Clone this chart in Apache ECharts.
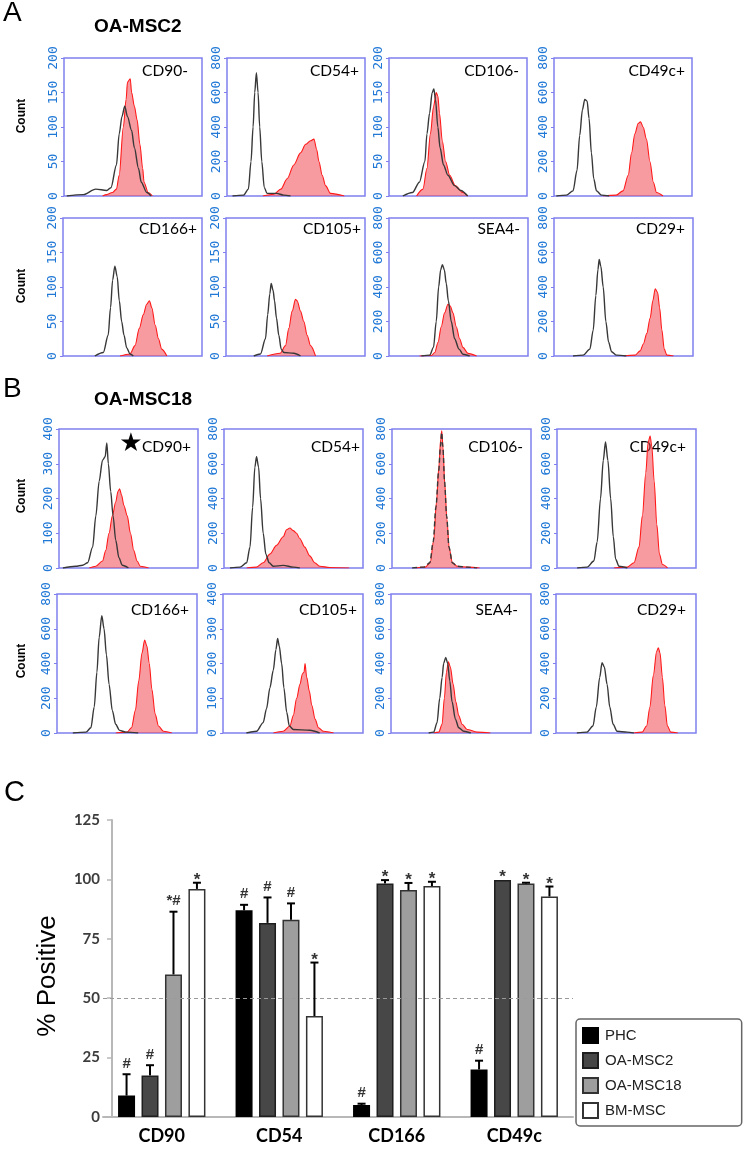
<!DOCTYPE html>
<html><head><meta charset="utf-8">
<script src="https://cdn.jsdelivr.net/npm/echarts/dist/echarts.min.js"></script>
<style>html,body{margin:0;padding:0;background:#fff}#c{width:747px;height:1150px}</style>
</head><body><div id="c"></div>
<script>
// ---------- Histogram data: [x (% of channel range), count] ----------
// Panel A: OA-MSC2 (ctrl = isotype, black; pos = stained, red)
const A_CD90_ctrl = [[2,0],[14,2],[23,10],[31,8],[34,12],[38,45],[40,90],[42,115],[44,130],[46,115],[49,95],[51,70],[54,40],[56,20],[60,5],[63,0]];
const A_CD90_pos = [[28,0],[31,2],[35,5],[38,10],[40,30],[43,100],[45,140],[46,165],[48,170],[49,150],[51,130],[53,110],[55,75],[57,40],[58,20],[61,5],[64,0]];
const A_CD54_ctrl = [[4,0],[12,5],[15.5,40],[17.4,200],[18.9,400],[20.1,600],[21.3,715],[22.5,600],[23.7,400],[25.2,200],[27,50],[29,15],[36,15],[41,5],[46,0]];
const A_CD54_pos = [[26,0],[34,10],[39,40],[43.6,100],[48.4,180],[53.3,250],[57,300],[60.5,320],[63,330],[65,270],[66.6,200],[69,120],[71.4,60],[75,15],[85,0]];
const A_CD106_ctrl = [[10,0],[17,5],[22,20],[26,50],[27.5,90],[29.4,120],[31.3,150],[32.5,155],[33.7,140],[35.4,100],[37,70],[39.5,45],[42.7,30],[47.5,15],[52,8],[57,0]];
const A_CD106_pos = [[20,0],[24.6,10],[27.5,40],[30,90],[32.3,130],[34.2,150],[35.4,145],[36.6,120],[38.6,80],[41,50],[44,30],[48,15],[53.5,5],[57,0]];
const A_CD49c_ctrl = [[1.7,0],[9,5],[13.8,30],[16.7,150],[18.6,350],[20.6,500],[22.3,560],[24,550],[25.4,450],[27.1,250],[28.8,100],[30.8,30],[34.4,5],[40,0]];
const A_CD49c_pos = [[35.6,0],[45,5],[50,30],[53.8,120],[56.2,250],[58.6,360],[61,420],[62.7,430],[64.6,400],[67,330],[69.5,200],[72,80],[74.3,20],[79,0]];
const A_CD166_ctrl = [[22.9,0],[29,5],[32.5,30],[34.2,70],[35.7,110],[37.3,130],[39,115],[40.5,80],[42.2,50],[43.9,30],[45.8,12],[48.2,3],[50.6,0]];
const A_CD166_pos = [[41,0],[48.2,3],[51.8,15],[54.9,40],[57.8,60],[60.2,75],[62.2,80],[63.9,70],[66.3,45],[68.7,25],[71,10],[74.7,0]];
const A_CD105_ctrl = [[20,0],[24.8,3],[28.4,25],[30,60],[31.5,90],[32.5,105],[33.9,95],[34.9,80],[36.3,55],[38,30],[39.7,10],[41.6,5],[48.8,4],[53.6,0]];
const A_CD105_pos = [[29.6,0],[39,4],[42.8,15],[45.2,40],[47.6,65],[50,82],[51.2,80],[53.6,65],[56,50],[58.4,30],[60.8,15],[64.4,0]];
const A_SEA4_ctrl = [[23.3,0],[29.3,5],[32,50],[34,200],[35.7,400],[37.2,500],[38.4,530],[39.8,500],[41.2,420],[42.7,320],[44.8,200],[47.2,100],[50.4,40],[53.2,10],[58,0]];
const A_SEA4_pos = [[22,0],[30.5,3],[32.9,20],[35.3,80],[37.6,170],[40,250],[42.4,300],[44.1,290],[46,250],[48.4,170],[50.8,100],[53.2,50],[56.8,15],[63,0]];
const A_CD29_ctrl = [[13.7,0],[21,5],[25.8,40],[28.2,150],[30.1,350],[31.6,500],[32.5,560],[33.7,520],[35.4,400],[37.3,200],[39.3,80],[41.4,25],[45,5],[52,0]];
const A_CD29_pos = [[50,0],[58.3,5],[62,30],[64.3,70],[66.7,130],[69.2,220],[71.1,320],[72.8,390],[74.5,370],[76,280],[77.6,150],[79.3,40],[81.2,5],[86,0]];
// Panel B: OA-MSC18
const B_CD90_ctrl = [[2.8,0],[12,5],[17,8],[20.6,15],[24.2,60],[26.5,150],[28.9,250],[31.3,310],[33.2,320],[34.4,360],[35.5,300],[37.2,220],[38.9,150],[40.8,80],[43.1,30],[45.5,8],[50,0]];
const B_CD90_pos = [[21.8,0],[26.5,5],[31.3,20],[33.6,50],[36,100],[38.4,150],[40.8,190],[42.4,220],[43.6,228],[45,210],[46.7,180],[49.1,150],[51.4,100],[53.8,50],[56.2,20],[58.5,5],[64.5,0]];
const B_CD54_ctrl = [[4.3,0],[11.5,5],[16.3,30],[18.7,120],[20.6,350],[22.2,580],[23.4,640],[24.9,580],[26.3,400],[28.2,200],[30.1,80],[32.5,30],[35.4,10],[42.6,15],[50,5],[54.5,0]];
const B_CD54_pos = [[16.3,0],[23.4,5],[28.2,30],[33,80],[37.8,130],[42.6,180],[45,220],[47.4,230],[49.8,215],[52.2,200],[54.5,170],[58.1,120],[61.7,70],[65.3,30],[69,10],[76,3],[90,0]];
const B_CD106_ctrl = [[14.5,0],[22.9,5],[27.2,30],[29.6,150],[31.6,350],[33.5,550],[34.9,700],[35.7,780],[36.6,700],[37.8,500],[39.3,300],[41,120],[43.4,30],[47,10],[54,5],[61,0]];
const B_CD106_pos = [[17,0],[24,5],[27.5,30],[30,160],[32,380],[33.7,580],[35,740],[35.8,790],[36.7,690],[38,480],[39.5,280],[41.2,110],[43.5,30],[47,10],[55,5],[63,0]];
const B_CD49c_ctrl = [[14.5,0],[21.7,5],[26.5,40],[28.9,150],[31.3,400],[33.3,620],[34.9,725],[36.6,620],[38.6,400],[40.5,180],[42.2,50],[44.6,10],[50.6,0]];
const B_CD49c_pos = [[41,0],[50.6,5],[55.4,30],[59,120],[61.4,300],[63.9,550],[65.5,720],[67,760],[68.2,700],[69.9,500],[71.8,250],[73.7,80],[75.9,20],[79.5,0]];
const B_CD166_ctrl = [[11.3,0],[20.7,5],[24.2,30],[26.6,150],[28.5,350],[30.1,550],[32,675],[33.6,600],[35.3,450],[37.2,280],[39.5,130],[41.9,50],[44.7,15],[49,5],[58,0]];
const B_CD166_pos = [[42,0],[50,5],[53.2,30],[56,130],[58.4,300],[60.7,460],[62.6,535],[64.2,500],[65.9,400],[67.8,250],[70.1,110],[72.5,40],[76,10],[82,0]];
const B_CD105_ctrl = [[16.7,0],[24,5],[28.7,30],[31.1,70],[33.5,130],[35.9,180],[37.8,240],[39,272],[40.2,250],[41.9,200],[43.5,130],[45.5,60],[47.4,20],[50.2,10],[62,8],[69,0]];
const B_CD105_pos = [[36,0],[43,5],[47.8,20],[50.2,50],[52.6,100],[55,140],[56.7,170],[57.9,175],[58.6,200],[59.8,160],[61.7,120],[63.4,80],[65.8,40],[68.2,15],[71.8,5],[79,0]];
const B_SEA4_ctrl = [[26.9,0],[30.5,5],[32.9,60],[34.8,200],[36.5,320],[37.6,400],[39.1,435],[40.5,400],[42,300],[43.6,180],[46,80],[48.4,30],[52,10],[57,0]];
const B_SEA4_pos = [[30.5,0],[34.1,5],[36.5,50],[38.1,200],[39.6,350],[41,410],[42.4,380],[44.4,280],[46.3,180],[48.4,100],[50.8,50],[54.4,20],[61.6,5],[71,0]];
const B_CD29_ctrl = [[14.9,0],[22,5],[26.4,40],[28.8,150],[31.2,320],[32.9,405],[34.5,380],[36.5,280],[38.4,150],[40.8,50],[43.6,10],[50.8,5],[55.6,0]];
const B_CD29_pos = [[55.6,0],[61.6,5],[64.7,40],[67.1,150],[69.5,330],[71.9,470],[73.1,490],[74.3,460],[76,320],[77.7,160],[79.6,40],[82,5],[87,0]];

// panel markers and y-axis maxima (tick labels: 0..max in quarters)
const histLabels = ['CD90-','CD54+','CD106-','CD49c+','CD166+','CD105+','SEA4-','CD29+',
                    'CD90+','CD54+','CD106-','CD49c+','CD166+','CD105+','SEA4-','CD29+'];
const histMax = [200,800,200,800, 200,200,800,800, 400,800,800,800, 800,400,800,800];
const histCtrl = [A_CD90_ctrl,A_CD54_ctrl,A_CD106_ctrl,A_CD49c_ctrl,A_CD166_ctrl,A_CD105_ctrl,A_SEA4_ctrl,A_CD29_ctrl,
                  B_CD90_ctrl,B_CD54_ctrl,B_CD106_ctrl,B_CD49c_ctrl,B_CD166_ctrl,B_CD105_ctrl,B_SEA4_ctrl,B_CD29_ctrl];
const histPos = [A_CD90_pos,A_CD54_pos,A_CD106_pos,A_CD49c_pos,A_CD166_pos,A_CD105_pos,A_SEA4_pos,A_CD29_pos,
                 B_CD90_pos,B_CD54_pos,B_CD106_pos,B_CD49c_pos,B_CD166_pos,B_CD105_pos,B_SEA4_pos,B_CD29_pos];

// ---------- Bar chart data (panel C) ----------
const categories = ['CD90','CD54','CD166','CD49c'];
const groupNames = ['PHC','OA-MSC2','OA-MSC18','BM-MSC'];
const PHC      = [9, 87, 5, 20];
const PHC_sd   = [9, 2.3, 0.6, 3.7];
const MSC2     = [17.5, 81.7, 98.3, 99.7];
const MSC2_sd  = [4.3, 10.7, 1.4, 0];
const MSC18    = [60, 83, 95.5, 98.3];
const MSC18_sd = [26.4, 6.9, 3, 0.3];
const BM       = [96, 42.5, 97.2, 92.8];
const BM_sd    = [2.6, 22.5, 1.8, 4.2];
const PHC_sig   = ['#','#','#','#'];
const MSC2_sig  = ['#','#','*','*'];
const MSC18_sig = ['*#','#','*','*'];
const BM_sig    = ['*','*','*','*'];
const yTicksC = [0, 25, 50, 75, 100, 125];

// ---------- layout / styling ----------
const BORDER = '#7f7ff0';
const rowsLayout = [
  {top:58,  h:138, lefts:[64,227,389,554], w:138, ty:13},
  {top:218, h:138, lefts:[63,226,389,554], w:139, ty:11},
  {top:429, h:139, lefts:[59,224,392,557], w:139, ty:18},
  {top:594, h:139, lefts:[57,223,391,556], w:140, ty:16}
];
const titleInset = [14,6,8,7, 5,4,8,8, 7,3,8,10, 8,6,13,10];

const grids=[], xAxes=[], yAxes=[], series=[], graphics=[];
function txt(x,y,text,font,opts){
  opts = opts||{};
  return {type:'text', x:x, y:y, rotation:opts.rotation||0, silent:true,
    style:{text:text, font:font, fill:opts.fill||'#000',
      align:opts.align||'left', verticalAlign:opts.va||'middle',
      textAlign:opts.align||'left', textVerticalAlign:opts.va||'middle'}};
}

for (let i=0;i<16;i++){
  const r = rowsLayout[Math.floor(i/4)], c = i%4;
  const left = r.lefts[c];
  grids.push({left:left, top:r.top, width:r.w, height:r.h, show:true,
    borderColor:BORDER, borderWidth:1.5, backgroundColor:'#fff'});
  xAxes.push({gridIndex:i, type:'value', min:0, max:100, show:false});
  yAxes.push({gridIndex:i, type:'value', min:0, max:histMax[i], interval:histMax[i]/4,
    axisLine:{show:false}, splitLine:{show:false},
    axisTick:{show:true, length:3, lineStyle:{color:BORDER, width:1}},
    axisLabel:{rotate:90, margin:4, color:'#1f77d6', fontFamily:'DejaVu Sans Mono', fontSize:13}});
  series.push({type:'line', xAxisIndex:i, yAxisIndex:i, data:histPos[i], smooth:0.3, smoothMonotone:'x',
    symbol:'none', silent:true, z:2,
    lineStyle:{color:'#ff1a1a', width:1.1}, areaStyle:{color:'rgba(240,72,82,0.78)'}});
  series.push({type:'line', xAxisIndex:i, yAxisIndex:i, data:histCtrl[i], smooth:0.3, smoothMonotone:'x',
    symbol:'none', silent:true, z:3,
    lineStyle:{color:'#383838', width:1.4, type: i===10 ? [5,3] : 'solid'}});
  graphics.push(txt(left + r.w - titleInset[i], r.top + r.ty, histLabels[i], '15.5px Lato', {align:'right'}));
}
// star on B CD90+
graphics.push(txt(131, 444, '★', '26px "DejaVu Sans"', {align:'center'}));
// Count labels
[116, 286, 496, 661].forEach(function(y){
  graphics.push(txt(22, y, 'Count', 'bold 12px "Liberation Sans"', {align:'center', rotation:Math.PI/2}));
});
// panel letters & titles
graphics.push(txt(3, 13, 'A', '28px "Liberation Sans"'));
graphics.push(txt(3, 389, 'B', '28px "Liberation Sans"'));
graphics.push(txt(4, 793, 'C', '29px "Liberation Sans"'));
graphics.push(txt(94, 27, 'OA-MSC2', 'bold 19px "Liberation Sans"'));
graphics.push(txt(94, 400, 'OA-MSC18', 'bold 19px "Liberation Sans"'));
graphics.push(txt(48, 976, '% Positive', '26px "Liberation Sans"', {align:'center', rotation:Math.PI/2}));

// ---------- bar chart ----------
const G = 16;
grids.push({left:103, top:820, width:470, height:297});
xAxes.push({gridIndex:G, type:'category', data:categories,
  axisLine:{lineStyle:{color:'#b8b8b8', width:2}}, axisTick:{show:false},
  axisLabel:{color:'#000', fontFamily:'Lato', fontWeight:'bold', fontSize:18, margin:10}});
yAxes.push({gridIndex:G, type:'value', min:0, max:125, interval:25, offset:-9,
  axisLine:{show:true, lineStyle:{color:'#b8b8b8', width:2}},
  axisTick:{show:true, length:5, lineStyle:{color:'#b8b8b8', width:1.5}},
  splitLine:{show:false},
  axisLabel:{color:'#3d3d3d', fontFamily:'Lato', fontWeight:'bold', fontSize:15, margin:12,
    formatter:function(v){ return yTicksC.indexOf(v)>=0 ? String(v) : ''; }}});

const barMeans = [PHC, MSC2, MSC18, BM];
const barSds = [PHC_sd, MSC2_sd, MSC18_sd, BM_sd];
const barSig = [PHC_sig, MSC2_sig, MSC18_sig, BM_sig];
const barFill = ['#000000','#474747','#9e9e9e','#ffffff'];
const barEdge = ['#000000','#1e1e1e','#333333','#333333'];
const BAR_W = 17, BAR_GAP = 0.38;
const pitch = BAR_W*(1+BAR_GAP);

for (let k=0;k<4;k++){
  const s = {type:'bar', name:groupNames[k], xAxisIndex:G, yAxisIndex:G, data:barMeans[k],
    barWidth:BAR_W, barGap:(BAR_GAP*100)+'%',
    itemStyle:{color:barFill[k], borderColor:barEdge[k], borderWidth:1.5}, z:2};
  if (k===0){
    s.markLine = {silent:true, symbol:'none', label:{show:false},
      lineStyle:{color:'#9a9a9a', type:[4,3], width:1.2}, data:[{yAxis:50}]};
  }
  series.push(s);
}
for (let k=0;k<4;k++){
  const off = (k-1.5)*pitch;
  const data = categories.map(function(c,j){ return [j, barMeans[k][j]+barSds[k][j], barMeans[k][j]]; });
  series.push({type:'custom', xAxisIndex:G, yAxisIndex:G, data:data, z:5, silent:true,
    renderItem:function(params, api){
      const top = api.coord([api.value(0), api.value(1)]);
      const base = api.coord([api.value(0), api.value(2)]);
      const x = top[0] + off;
      const sig = barSig[k][params.dataIndex];
      const children = [];
      if (api.value(1) - api.value(2) > 0.05){
        children.push({type:'line', shape:{x1:x, y1:base[1], x2:x, y2:top[1]}, style:{stroke:'#000', lineWidth:2}});
        children.push({type:'line', shape:{x1:x-4, y1:top[1], x2:x+4, y2:top[1]}, style:{stroke:'#000', lineWidth:2}});
      }
      const hasHash = sig.indexOf('#')>=0;
      children.push({type:'text', x:x, y: top[1] + (hasHash ? -3 : 6),
        style:{text:sig, font:(hasHash ? 'bold 15px' : 'bold 17px') + ' "Liberation Sans"', fill:'#333',
          align:'center', verticalAlign:'bottom', textAlign:'center', textVerticalAlign:'bottom'}});
      return {type:'group', children:children};
    }});
}

const option = {
  animation:false,
  backgroundColor:'#fff',
  grid:grids, xAxis:xAxes, yAxis:yAxes, series:series, graphic:graphics,
  legend:{data:groupNames, orient:'vertical', left:576, top:1019,
    padding:[8,60,7,6], itemWidth:15, itemHeight:15, itemGap:8, icon:'rect',
    borderColor:'#666', borderWidth:1.5, borderRadius:4,
    textStyle:{fontFamily:'Liberation Sans', fontSize:15, color:'#222', padding:[0,0,0,2]}}
};
const chart = echarts.init(document.getElementById('c'));
chart.setOption(option);
</script>
</body></html>
